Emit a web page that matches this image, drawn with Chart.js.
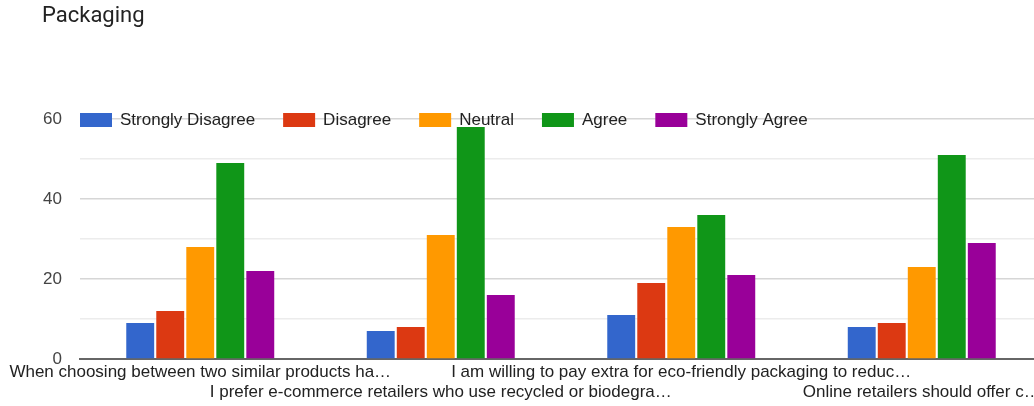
<!DOCTYPE html>
<html>
<head>
<meta charset="utf-8">
<script src="https://cdn.jsdelivr.net/npm/chart.js@4/dist/chart.umd.min.js"></script>
<style>
    html, body { margin: 0; padding: 0; background: #fff; overflow: hidden; }
    #wrap { position: relative; width: 1042px; height: 406px; }
</style>
</head>
<body>
<div id="wrap"><canvas id="packagingChart"></canvas></div>
<script>
// Preguntas de la encuesta (ya recortadas como en el resumen del formulario)
const categories = [
    'When choosing between two similar products ha\u2026',
    'I prefer e-commerce retailers who use recycled or biodegra\u2026',
    'I am willing to pay extra for eco-friendly packaging to reduc\u2026',
    'Online retailers should offer c\u2026'
];

const seriesNames = ['Strongly Disagree', 'Disagree', 'Neutral', 'Agree', 'Strongly Agree'];

// Respuestas por pregunta
const stronglyDisagree = [9, 7, 11, 8];
const disagree = [12, 8, 19, 9];
const neutral = [28, 31, 33, 23];
const agree = [49, 58, 36, 51];
const stronglyAgree = [22, 16, 21, 29];

const yTicks = [0, 20, 40, 60];

const colors = ['#3366cc', '#dc3912', '#ff9900', '#109618', '#990099'];
const values = [stronglyDisagree, disagree, neutral, agree, stronglyAgree];

const labelFont = { family: "'Liberation Sans', Arial, sans-serif", size: 17 };

// Leyenda dibujada sobre la línea superior de la cuadrícula
const inlineLegend = {
    id: 'inlineLegend',
    afterDatasetsDraw(chart) {
        const ctx = chart.ctx;
        const y = chart.chartArea.top + 1;
        let x = chart.chartArea.left;
        ctx.save();
        ctx.font = labelFont.size + 'px ' + labelFont.family;
        ctx.textBaseline = 'middle';
        ctx.textAlign = 'left';
        chart.data.datasets.forEach(ds => {
            ctx.fillStyle = ds.backgroundColor;
            ctx.fillRect(x, y - 7, 32, 14);
            x += 32 + 8;
            ctx.fillStyle = '#222';
            ctx.fillText(ds.label, x, y);
            x += ctx.measureText(ds.label).width + 28;
        });
        ctx.restore();
    }
};

const ctx = document.getElementById('packagingChart');

new Chart(ctx, {
    type: 'bar',
    data: {
        labels: categories,
        datasets: seriesNames.map((name, i) => ({
            label: name,
            data: values[i],
            backgroundColor: colors[i],
            borderWidth: 0,
            barPercentage: 0.93,
            categoryPercentage: 0.624
        }))
    },
    options: {
        responsive: true,
        maintainAspectRatio: false,
        animation: false,
        layout: { padding: { left: 42, right: 0, top: 0, bottom: 0 } },
        plugins: {
            legend: { display: false },
            tooltip: { enabled: false },
            title: {
                display: true,
                text: 'Packaging',
                align: 'start',
                color: '#222',
                font: { family: 'Roboto, sans-serif', size: 22, weight: 'normal' },
                padding: { top: 3, bottom: 89.6 }
            }
        },
        scales: {
            x: {
                // las etiquetas largas pueden salirse por los lados, no encoger el área
                afterFit: scale => {
                    scale.paddingLeft = 0;
                    scale.paddingRight = 0;
                    scale.height = 47;
                },
                grid: { display: false, drawTicks: false, tickLength: 0 },
                border: { display: true, color: '#666', width: 2 },
                ticks: {
                    autoSkip: false,
                    maxRotation: 0,
                    minRotation: 0,
                    padding: 3,
                    color: '#222',
                    font: labelFont,
                    callback: function(value, index) {
                        const text = categories[index];
                        return index % 2 === 0 ? [text, ''] : ['', text];
                    }
                }
            },
            y: {
                min: 0,
                max: 60,
                afterFit: scale => { scale.width = 38; },
                border: { display: false },
                grid: {
                    drawTicks: false,
                    color: c => c.tick.value === 0 ? 'rgba(0,0,0,0)' :
                        (yTicks.includes(c.tick.value) ? '#d6d6d6' : '#ececec'),
                    lineWidth: 1.5
                },
                ticks: {
                    stepSize: 10,
                    padding: 18,
                    color: '#444',
                    font: labelFont,
                    callback: v => yTicks.includes(v) ? v : ''
                }
            }
        }
    },
    plugins: [inlineLegend]
});
</script>
</body>
</html>
